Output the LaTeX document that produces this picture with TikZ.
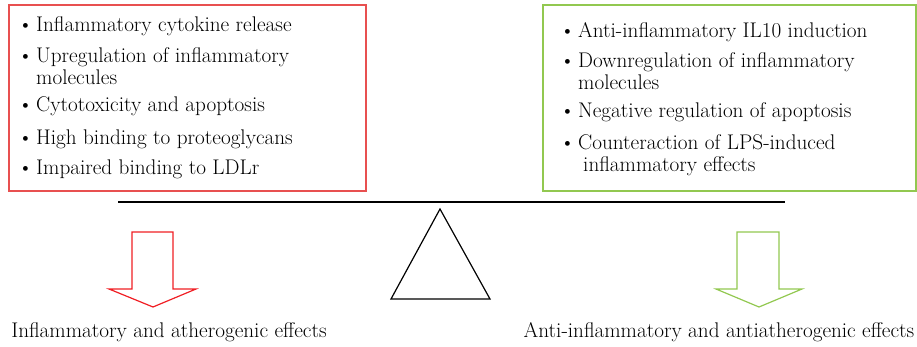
\documentclass[tikz,border=0pt]{standalone}
\usepackage{tikz}
\definecolor{boxred}{RGB}{232,80,80}
\definecolor{arrowred}{RGB}{240,30,36}
\definecolor{leafgreen}{RGB}{146,200,80}
\tikzstyle{box} = [rectangle, line width=1.5pt, inner sep=0pt]
\tikzstyle{item} = [anchor=base west, inner sep=0pt, font=\fontsize{21.2}{25}\selectfont]
\tikzstyle{effect} = [anchor=base, inner sep=0pt, font=\fontsize{21.2}{25}\selectfont]
\tikzstyle{bigarrow} = [line width=1.2pt, line join=miter]
\newcommand{\pbul}{\llap{\textbullet\hspace{3pt}}}

\begin{document}
\begin{tikzpicture}[x=1pt, y=-1pt]
    \useasboundingbox (0,0) rectangle (917,347);
    % Place boxes
    \node [box, draw=boxred, minimum width=357pt, minimum height=186pt] (harm) at (187.5,98) {};
    \node [box, draw=leafgreen, minimum width=373pt, minimum height=186pt] (help) at (729.5,98) {};

    % Red box items
    \node [item] (h1) at (36,32) {\pbul Inflammatory cytokine release};
    \node [item] (h2) at (36,63) {\pbul Upregulation of inflammatory};
    \node [item] (h2b) at (36,85) {molecules};
    \node [item] (h3) at (36,112) {\pbul Cytotoxicity and apoptosis};
    \node [item] (h4) at (36,145) {\pbul High binding to proteoglycans};
    \node [item] (h5) at (36,175) {\pbul Impaired binding to LDLr};

    % Green box items
    \node [item] (g1) at (578,38) {\pbul Anti-inflammatory IL10 induction};
    \node [item] (g2) at (578,68) {\pbul Downregulation of inflammatory};
    \node [item] (g2b) at (578,90) {molecules};
    \node [item] (g3) at (578,118) {\pbul Negative regulation of apoptosis};
    \node [item] (g4) at (578,150) {\pbul Counteraction of LPS-induced};
    \node [item] (g4b) at (583,172) {inflammatory effects};

    % Balance
    \coordinate (beamL) at (118,202);
    \coordinate (beamR) at (785,202);
    \draw [line width=1.2pt] (beamL) -- (beamR);
    \draw [line width=1.2pt, line join=miter] (440,209) -- (490,299) -- (391,299) -- cycle;

    % Arrows
    \draw [bigarrow, draw=arrowred] (132,232) -- (173,232) -- (173,289) -- (196,289)
        -- (153,307) -- (109,289) -- (132,289) -- cycle;
    \draw [bigarrow, draw=leafgreen] (737,232) -- (779,232) -- (779,289) -- (802,289)
        -- (759,307) -- (716,289) -- (737,289) -- cycle;

    % Effects
    \node [effect] (bad) at (169,337) {Inflammatory and atherogenic effects};
    \node [effect] (good) at (719,337) {Anti-inflammatory and antiatherogenic effects};
\end{tikzpicture}
\end{document}
